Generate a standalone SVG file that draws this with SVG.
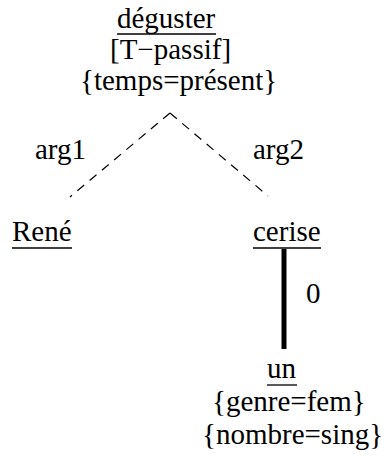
<svg xmlns="http://www.w3.org/2000/svg" width="387" height="461" viewBox="0 0 387 461">
<style>
text{font-family:"Liberation Serif","Times New Roman",serif;font-size:29px;fill:#000}
.u{stroke:#000;stroke-width:1.3}
.d{stroke:#000;stroke-width:1.2;stroke-dasharray:9 7;fill:none}
</style>
<rect width="387" height="461" fill="#fff"/>
<g id="connectors">
<path class="d" d="M170 113 L70 197"/>
<path class="d" d="M170 113 L268 196"/>
<line x1="284" y1="249" x2="284" y2="349" stroke="#000" stroke-width="5"/>
<text x="35" y="159">arg1</text>
<text x="253" y="159">arg2</text>
<text x="306" y="303">0</text>
</g>
<g id="deguster">
<text x="117" y="28">déguster</text>
<line class="u" x1="117" y1="34" x2="216" y2="34"/>
<text x="110" y="59">[T−passif]</text>
<text x="80" y="90">{temps=présent}</text>
</g>
<g id="rene">
<text x="12" y="241">René</text>
<line class="u" x1="12" y1="248" x2="72" y2="248"/>
</g>
<g id="cerise">
<text x="253" y="241">cerise</text>
<line class="u" x1="253" y1="248" x2="321" y2="248"/>
</g>
<g id="un">
<text x="267" y="378">un</text>
<line class="u" x1="267" y1="385" x2="297" y2="385"/>
<text x="212" y="411">{genre=fem}</text>
<text x="202" y="444">{nombre=sing}</text>
</g>
</svg>
